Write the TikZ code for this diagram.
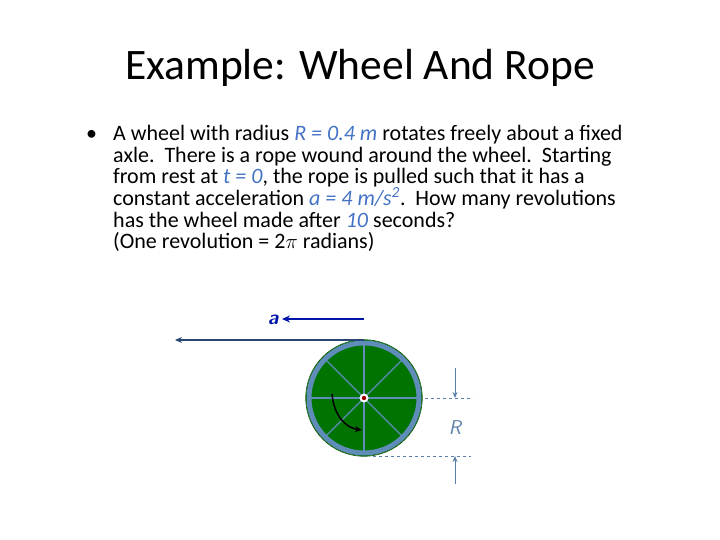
\documentclass[tikz,border=0pt]{standalone}
\usepackage{fontspec}
\usetikzlibrary{arrows.meta}
\setmainfont{Carlito}
\definecolor{hl}{RGB}{68,114,196}
\definecolor{wheelg}{RGB}{0,115,0}
\definecolor{rim}{RGB}{95,140,185}
\definecolor{abl}{RGB}{0,20,170}
\definecolor{rope}{RGB}{40,70,115}
\definecolor{dim}{RGB}{90,125,170}
\begin{document}
\begin{tikzpicture}[x=1pt,y=-1pt,
  line/.style={anchor=base west,inner sep=0pt,font=\fontsize{22}{24}\selectfont},
  dimline/.style={dim,dashed,line width=1pt},
  dimarrow/.style={dim,line width=1pt,-{Stealth[length=6pt,width=5pt]}}]
\useasboundingbox (0,0) rectangle (720,540);
\node (title) at (360,68) {\fontsize{43.5}{46}\selectfont Example: Wheel And Rope};
\node[line] (bul) at (86,141) {\textbullet};
\node[line] (l1) at (113,141) {A wheel with radius \textcolor{hl}{\textit{R = 0.4 m}} rotates freely about a fixed};
\node[line] (l2) at (113,162.5) {axle.\ \ There is a rope wound around the wheel.\ \ Starting};
\node[line] (l3) at (113,184) {from rest at \textcolor{hl}{\textit{t = 0}}, the rope is pulled such that it has a};
\node[line] (l4) at (113,205.5) {constant acceleration \textcolor{hl}{\textit{a = 4 m/s\textsuperscript{2}}}.\ \ How many revolutions};
\node[line] (l5) at (113,227) {has the wheel made after \textcolor{hl}{\textit{10}} seconds?};
\node[line] (l6) at (113,248.5) {(One revolution = 2$\pi$ radians)};
% wheel
\coordinate (c) at (364,398);
\fill[wheelg] (c) circle (58);
\draw[rim,line width=5pt] (c) circle (55);
\draw[wheelg!70!black,line width=0.6pt] (c) circle (58.3);
\foreach \a in {0,45,...,315} \draw[rim,line width=1.3pt] (c) -- ++(\a:53);
\fill[white] (c) circle (4.5);
\fill[red!60!black] (c) circle (2.2);
% rope
\coordinate (ropeS) at (364,340);
\coordinate (ropeE) at (175,340);
\draw[rope,line width=1.5pt,-{Stealth[length=7pt,width=6pt]}] (ropeS) -- (ropeE);
% acceleration arrow
\coordinate (aS) at (364,319);
\coordinate (aE) at (282,319);
\draw[abl,line width=2pt,-{Stealth[length=8pt,width=7pt]}] (aS) -- (aE);
\node[abl,font=\fontsize{20}{22}\selectfont\sffamily\bfseries\itshape] (alab) at (273,320) {a};
% rotation arrow
\coordinate (r1) at (332,394);
\coordinate (r2) at (362,430);
\draw[black,line width=1.5pt,-{Stealth[length=7pt,width=6pt]}] (r1) .. controls (334,416) and (346,428) .. (r2);
% dimension
\coordinate (d1a) at (425,398); \coordinate (d1b) at (473,398);
\coordinate (d2a) at (373,456); \coordinate (d2b) at (471,456);
\draw[dimline] (d1a) -- (d1b);
\draw[dimline] (d2a) -- (d2b);
\coordinate (t1) at (455,368); \coordinate (t1e) at (455,398);
\coordinate (t2) at (455,484); \coordinate (t2e) at (455,456);
\draw[dimarrow] (t1) -- (t1e);
\draw[dimarrow] (t2) -- (t2e);
\node[dim,font=\fontsize{20}{22}\selectfont\sffamily\itshape] (Rlab) at (455,428) {R};
\end{tikzpicture}
\end{document}
